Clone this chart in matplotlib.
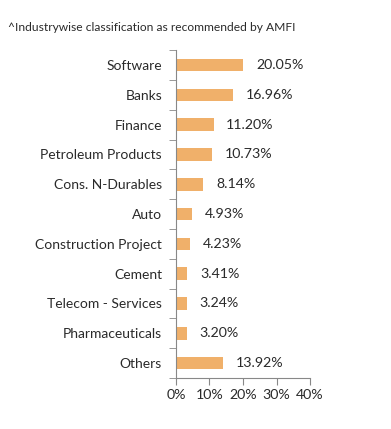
import numpy as np
import matplotlib.pyplot as plt

categories = ['Software', 'Banks', 'Finance', 'Petroleum Products', 'Cons. N-Durables',
              'Auto', 'Construction Project', 'Cement', 'Telecom - Services',
              'Pharmaceuticals', 'Others']
values = [20.05, 16.96, 11.20, 10.73, 8.14, 4.93, 4.23, 3.41, 3.24, 3.20, 13.92]
xticks = [0, 10, 20, 30, 40]

plt.rcParams['font.family'] = ['Lato', 'DejaVu Sans']

fig = plt.figure(figsize=(3.91, 4.29), dpi=100)
ax = fig.add_axes([0.450, 0.119, 0.343, 0.764])

y = np.arange(len(categories))
ax.barh(y, values, height=0.42, color='#F0B06A')
for yi, v in zip(y, values):
    ax.text(v + 3.8, yi, f'{v:.2f}%', va='center', ha='left', fontsize=10.2, color='#2a2a2a')

ax.set_ylim(len(categories) - 0.5, -0.5)
ax.set_xlim(0, 40)
ax.set_xticks(xticks)
ax.set_xticklabels([f'{t}%' for t in xticks], fontsize=10.2, color='#2a2a2a')
ax.set_yticks(y)
ax.set_yticklabels(categories, fontsize=10, color='#2a2a2a')
ax.tick_params(axis='y', length=0, pad=10)
ax.set_yticks(np.arange(len(categories) + 1) - 0.5, minor=True)
ax.tick_params(axis='y', which='minor', length=5, color='#888888')
ax.tick_params(axis='x', length=5, color='#888888', pad=3)

for s in ['top', 'right']:
    ax.spines[s].set_visible(False)
for s in ['left', 'bottom']:
    ax.spines[s].set_color('#888888')

fig.text(0.02, 0.937, '^Industrywise classification as recommended by AMFI',
         fontsize=8.65, color='#2a2a2a', va='center')

fig.savefig('out.png', dpi=100)
